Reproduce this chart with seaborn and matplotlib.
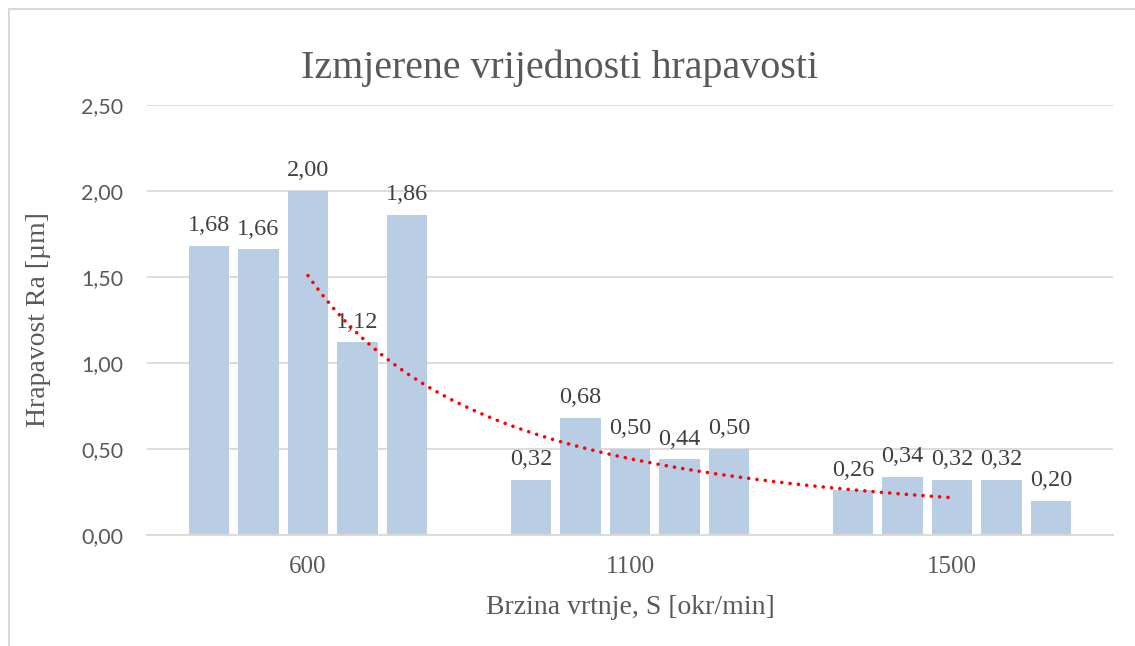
import numpy as np
import pandas as pd
import matplotlib
matplotlib.use("Agg")
import matplotlib.pyplot as plt
from matplotlib.lines import Line2D
import seaborn as sns

# Measured roughness Ra [µm] for each spindle speed (5 measurements each)
speeds = ["600", "1100", "1500"]
meas_600 = [1.68, 1.66, 2.00, 1.12, 1.86]
meas_1100 = [0.32, 0.68, 0.50, 0.44, 0.50]
meas_1500 = [0.26, 0.34, 0.32, 0.32, 0.20]
measurement_ids = ["1", "2", "3", "4", "5"]

# Power trend values at the three speed categories (category index 1..3)
trend_points = [1.50, 0.45, 0.215]

rows = []
for spd, vals in zip(speeds, [meas_600, meas_1100, meas_1500]):
    for mid, v in zip(measurement_ids, vals):
        rows.append({"speed": spd, "mjerenje": mid, "ra": v})
df = pd.DataFrame(rows)

sns.set_theme(style="white")
SERIF = ["Liberation Serif", "DejaVu Serif"]
SANS = ["Lato", "DejaVu Sans"]
TXT = "#595959"

fig = plt.figure(figsize=(11.35, 6.46), dpi=100)
ax = fig.add_axes([147 / 1135, 1 - 535 / 646, (1113 - 147) / 1135, (535 - 105) / 646])

bar_color = "#B9CDE5"
sns.barplot(data=df, x="speed", y="ra", hue="mjerenje", order=speeds,
            hue_order=measurement_ids, palette=[bar_color] * 5,
            width=0.769, gap=0.19, legend=False, ax=ax, errorbar=None,
            linewidth=0, saturation=1)

for cont in ax.containers:
    labels = [f"{b.get_height():.2f}".replace(".", ",") for b in cont]
    ax.bar_label(cont, labels=labels, padding=7, fontsize=17.5,
                 family=SERIF, color="#404040")

# Power-law trend line through the middle measurement position
xi = np.arange(1, len(trend_points) + 1)
b, ln_a = np.polyfit(np.log(xi), np.log(trend_points), 1)
xs = np.linspace(1, len(trend_points), 200)
ys = np.exp(ln_a) * xs ** b
ax.plot(xs - 1, ys, color="#FF0000", lw=2.6, linestyle=(0, (0.01, 2.3)),
        dash_capstyle="round", zorder=5)

ax.set_xlim(-0.5, 2.5)
ax.set_ylim(0, 2.5)
yt = np.arange(0, 2.51, 0.5)
ax.set_yticks(yt)
ax.set_yticklabels([f"{v:.2f}".replace(".", ",") for v in yt],
                   family=SANS, fontsize=15.5, color=TXT)
ax.set_xticks(range(len(speeds)))
ax.set_xticklabels(speeds, family=SERIF, fontsize=18, color=TXT)
ax.tick_params(axis="y", length=0, pad=17)
ax.tick_params(axis="x", length=0, pad=15)

ax.grid(axis="y", color="#D9D9D9", lw=1.3)
ax.set_axisbelow(True)
for s in ["top", "right", "left"]:
    ax.spines[s].set_visible(False)
ax.spines["bottom"].set_color("#D9D9D9")
ax.spines["bottom"].set_linewidth(1.3)

ax.set_xlabel("Brzina vrtnje, S [okr/min]", family=SERIF, fontsize=20,
              color=TXT, labelpad=12)
ax.set_ylabel("Hrapavost Ra [µm]", family=SERIF, fontsize=20, color=TXT,
              labelpad=22)

fig.text(560 / 1135, 1 - 68 / 646, "Izmjerene vrijednosti hrapavosti",
         family=SERIF, fontsize=28.8, color=TXT, ha="center", va="center")

# Thin chart-area frame
frame_kw = dict(color="#D9D9D9", lw=1.5, transform=fig.transFigure)
fig.add_artist(Line2D([8.5 / 1135, 8.5 / 1135], [0, 1 - 8.5 / 646], **frame_kw))
fig.add_artist(Line2D([8.5 / 1135, 1], [1 - 8.5 / 646, 1 - 8.5 / 646], **frame_kw))

fig.savefig("out.png", dpi=100)
